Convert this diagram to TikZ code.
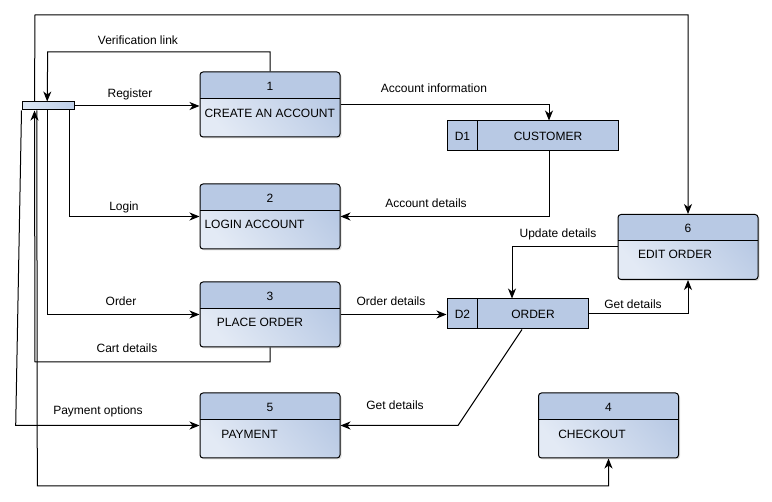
\documentclass[tikz,border=0pt]{standalone}
\usepackage{fontspec}
\setmainfont{Liberation Sans}
\usetikzlibrary{arrows.meta,shadows}
\definecolor{hdr}{HTML}{B8C9E4}
\definecolor{lite}{HTML}{E3EAF5}
\definecolor{entl}{HTML}{DCE6F3}
\definecolor{entr}{HTML}{BFD0EA}
\begin{document}
\begin{tikzpicture}[x=1pt,y=-1pt,
  font=\fontsize{12}{14}\selectfont,
  line width=1pt,
  arr/.style={-{Stealth[length=10pt,width=8pt,inset=3pt]}},
  proc/.style={draw, rounded corners=3pt, inner sep=0pt,
    minimum width=140pt, minimum height=65pt,
    top color=hdr, bottom color=lite, shading angle=-50,
    drop shadow={opacity=0.25, shadow xshift=1.5pt, shadow yshift=-1.5pt},
    path picture={
      \fill[hdr] (path picture bounding box.north west) rectangle
        ([yshift=-26.5pt]path picture bounding box.north east);
      \draw[line width=1pt] ([yshift=-26.5pt]path picture bounding box.north west) --
        ([yshift=-26.5pt]path picture bounding box.north east);
    }},
  store/.style={draw, fill=hdr, inner sep=0pt, minimum height=30pt},
  lbl/.style={inner sep=1pt},
]
\useasboundingbox (0,0) rectangle (772,502);

% processes
\node[proc] (p1) at (270,104.5) {};
\node[proc] (p2) at (270,216.5) {};
\node[proc] (p3) at (270,314.5) {};
\node[proc] (p5) at (270,425.5) {};
\node[proc] (p4) at (608.5,425.5) {};
\node[proc] (p6) at (688,247) {};

\node (n1) at (270,86) {1};
\node (n2) at (270,198) {2};
\node (n3) at (270,296) {3};
\node (n5) at (270,407) {5};
\node (n4) at (608.5,407) {4};
\node (n6) at (688,228.5) {6};

\node[anchor=west,inner sep=0pt] (t1) at (204,113) {CREATE AN ACCOUNT};
\node[anchor=west,inner sep=0pt] (t2) at (204,224.5) {LOGIN ACCOUNT};
\node (t3) at (260,322.5) {PLACE ORDER};
\node (t5) at (249.5,434) {PAYMENT};
\node (t4) at (592,434) {CHECKOUT};
\node (t6) at (675,254.5) {EDIT ORDER};

% data stores
\node[store, minimum width=171pt] (d1) at (532.5,136) {};
\draw ([xshift=31pt]d1.north west) -- ([xshift=31pt]d1.south west);
\node (d1a) at (462.5,136) {D1};
\node (d1b) at (548,136) {CUSTOMER};

\node[store, minimum width=141pt] (d2) at (517.5,314) {};
\draw ([xshift=31pt]d2.north west) -- ([xshift=31pt]d2.south west);
\node (d2a) at (462.5,314) {D2};
\node (d2b) at (533,314) {ORDER};

% external entity
\node[draw, left color=entl, right color=entr, inner sep=0pt,
  minimum width=52pt, minimum height=8pt] (ent) at (48,106) {};

% connectors
\draw[arr] ([xshift=13pt]ent.north west) -- (35,15) -- (688,15) -- (p6.north);
\draw[arr] (p1.north) -- (270,52) -- (47.7,52) -- ([xshift=25.7pt]ent.north west);
\draw[arr] (ent.east) -- (ent.east -| p1.west);
\draw[arr] (p1.east) -| ([xshift=16.5pt]d1.north);
\draw[arr] ([xshift=16.5pt]d1.south) |- (p2.east);
\draw[arr] ([xshift=-5pt]ent.south east) |- (p2.west);
\draw[arr] ([xshift=25.7pt]ent.south west) |- (p3.west);
\draw[arr] (p3.south) -- (270,362) -- (35,362) -- ([xshift=13pt]ent.south west);
\draw[arr] ([xshift=15.3pt]ent.south west) -- (37.3,486) -| (p4.south);
\draw[arr] (ent.south west) -- (15.7,425.5) -- (p5.west);
\draw[arr] (p3.east) -- (p3.east -| d2.west);
\draw[arr] (p6.west) -| ([xshift=-5.5pt]d2.north);
\draw[arr] (d2.east) -| (p6.south);
\draw[arr] ([xshift=4.5pt]d2.south) -- (458,425.5) -- (p5.east);

% labels
\node[lbl] (lv) at (138,40) {Verification link};
\node[lbl] (lr) at (130,94) {Register};
\node[lbl] (lai) at (434,88) {Account information};
\node[lbl] (ll) at (124,207) {Login};
\node[lbl] (lad) at (426,203) {Account details};
\node[lbl] (lud) at (558,234) {Update details};
\node[lbl] (lo) at (121,301) {Order};
\node[lbl] (lod) at (391,301) {Order details};
\node[lbl] (lgr) at (633,304) {Get details};
\node[lbl] (lcd) at (127,348) {Cart details};
\node[lbl] (lpo) at (98,411) {Payment options};
\node[lbl] (lgl) at (395,405) {Get details};
\end{tikzpicture}
\end{document}
